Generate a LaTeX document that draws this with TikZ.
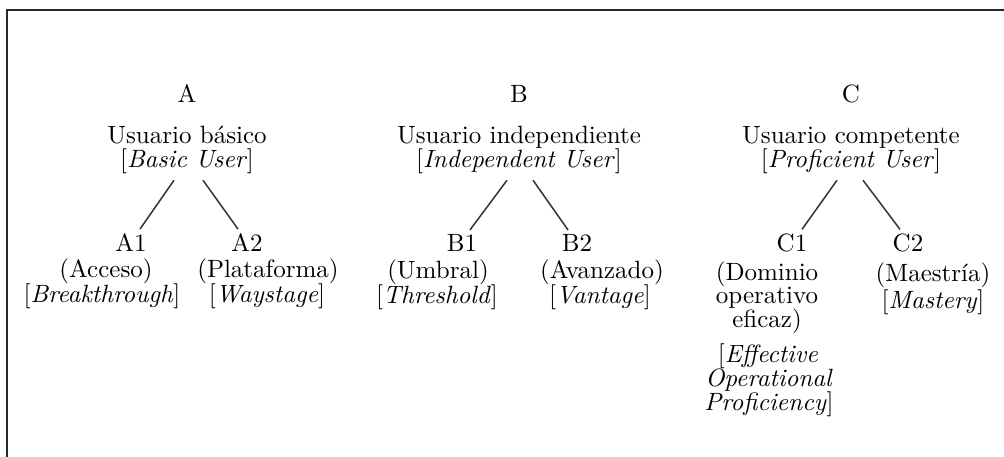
\documentclass[tikz,border=0pt]{standalone}
\usetikzlibrary{calc}
\begin{document}
\begin{tikzpicture}[x=0.4pt,y=-0.4pt,
  txt/.style={anchor=base,inner sep=0pt,outer sep=0pt,font=\fontsize{10}{12}\selectfont,text=black},
  branch/.style={draw=black!80,line width=0.6pt},
  frame/.style={draw=black!85,line width=1.1pt}]
\useasboundingbox (0,0) rectangle (1004,457);
% frame (top and left edges)
\coordinate (ftr) at (1004,10);
\coordinate (ftl) at (7,10);
\coordinate (fbl) at (7,457);
\draw[frame] (ftr) -- (ftl) -- (fbl);
% level A
\node[txt] (a)   at (187,103) {A};
\node[txt] (aes) at (187,144) {Usuario básico};
\node[txt] (aen) at (187,168) {[\textit{Basic User}]};
\node[txt] (a1)  at (131,252) {A1};
\node[txt] (a1es) at (106,278) {(Acceso)};
\node[txt] (a1en) at (102,303) {[\textit{Breakthrough}]};
\node[txt] (a2)  at (247,252) {A2};
\node[txt] (a2es) at (268,278) {(Plataforma)};
\node[txt] (a2en) at (267,303) {[\textit{Waystage}]};
\draw[branch] ($(aen.south)+(-13,6)$) -- ($(a1.north)+(9,-5)$);
\draw[branch] ($(aen.south)+(16,6)$) -- ($(a2.north)+(-9,-5)$);
% level B
\node[txt] (b)   at (519,103) {B};
\node[txt] (bes) at (519,144) {Usuario independiente};
\node[txt] (ben) at (519,168) {[\textit{Independent User}]};
\node[txt] (b1)  at (462,252) {B1};
\node[txt] (b1es) at (438,279) {(Umbral)};
\node[txt] (b1en) at (437,304) {[\textit{Threshold}]};
\node[txt] (b2)  at (577,252) {B2};
\node[txt] (b2es) at (602,279) {(Avanzado)};
\node[txt] (b2en) at (600,304) {[\textit{Vantage}]};
\draw[branch] ($(ben.south)+(-12,6)$) -- ($(b1.north)+(8,-5)$);
\draw[branch] ($(ben.south)+(14,6)$) -- ($(b2.north)+(-9,-5)$);
% level C
\node[txt] (c)   at (851,103) {C};
\node[txt] (ces) at (851,144) {Usuario competente};
\node[txt] (cen) at (851,168) {[\textit{Proficient User}]};
\node[txt] (c1)  at (792,252) {C1};
\node[txt] (c1esa) at (767,281) {(Dominio};
\node[txt] (c1esb) at (767,304) {operativo};
\node[txt] (c1esc) at (767,328) {eficaz)};
\node[txt] (c1ena) at (768,363) {[\textit{Effective}};
\node[txt] (c1enb) at (769,387) {\textit{Operational}};
\node[txt] (c1enc) at (769,411) {\textit{Proficiency}]};
\node[txt] (c2)  at (908,252) {C2};
\node[txt] (c2es) at (933,282) {(Maestría)};
\node[txt] (c2en) at (933,309) {[\textit{Mastery}]};
\draw[branch] ($(cen.south)+(-14,6)$) -- ($(c1.north)+(10,-5)$);
\draw[branch] ($(cen.south)+(12,6)$) -- ($(c2.north)+(-8,-5)$);
\end{tikzpicture}
\end{document}
